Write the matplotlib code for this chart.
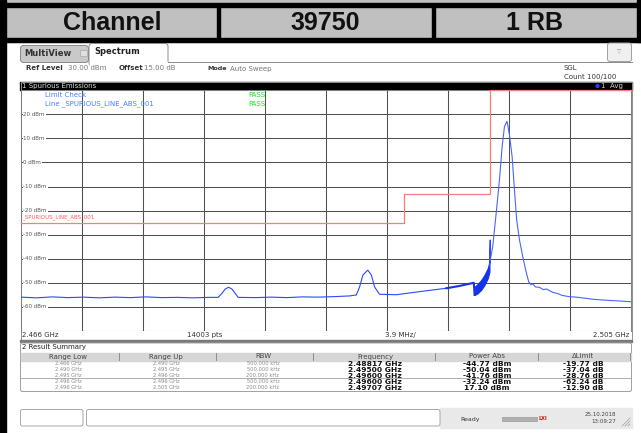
import numpy as np
import matplotlib.pyplot as plt
from matplotlib.patches import Rectangle, FancyBboxPatch, Circle

# header row of the report
header_labels = ['Channel', '39750', '1 RB']

# trace 1 (GHz, dBm), thin part up to 2.493 GHz
trace_freq = [2.4660, 2.4670, 2.4680, 2.4690, 2.4700, 2.4710, 2.4720, 2.4730,
              2.4740, 2.4750, 2.4760, 2.4770, 2.4780, 2.4786, 2.47884, 2.47906,
              2.47927, 2.47948, 2.47970, 2.47988, 2.4810, 2.4820, 2.4830, 2.4840,
              2.4850, 2.4860, 2.4870, 2.48744, 2.48765, 2.48786, 2.48817, 2.48840,
              2.48860, 2.48892, 2.4900, 2.4915, 2.4932]
trace_level = [-56.0, -56.3, -55.9, -56.2, -56.0, -56.3, -56.0, -56.2,
               -55.9, -56.2, -56.1, -56.3, -56.1, -56.1, -54.5, -52.6,
               -51.9, -52.6, -54.5, -56.1, -56.2, -56.0, -56.2, -55.9,
               -56.0, -55.8, -55.5, -55.1, -51.7, -46.8, -44.77, -46.8,
               -51.7, -54.8, -55.0, -53.7, -52.3]

# thick part before the 2.495 GHz range edge
thick_freq = [2.4932, 2.4940, 2.49495, 2.49500]
thick_level = [-52.3, -51.4, -50.04, -55.1]

# noisy band 2.495 - 2.496 GHz (upper / lower envelope)
band_freq = [2.49500, 2.49520, 2.49542, 2.49563, 2.49584, 2.49595]
band_upper = [-51.7, -50.5, -48.9, -46.8, -44.0, -41.3]
band_lower = [-55.1, -54.4, -53.0, -51.0, -48.2, -45.4]

# spike at 2.496 GHz
spike_freq = [2.49595, 2.49600, 2.49600]
spike_level = [-43.3, -32.24, -41.8]

# carrier
carrier_freq = [2.49600, 2.49616, 2.49638, 2.49659, 2.49676, 2.49691, 2.49707,
                2.49712, 2.49723, 2.49740, 2.49755, 2.49769, 2.49787, 2.49808,
                2.49829, 2.49846, 2.49860, 2.49872, 2.49890, 2.49914, 2.49940,
                2.49960, 2.49999, 2.50030, 2.50060, 2.50106, 2.50150, 2.50213,
                2.50260, 2.50319, 2.50370, 2.50425, 2.50470, 2.50500]
carrier_level = [-40.6, -35.0, -21.1, -7.3, 6.5, 14.9, 17.10,
                 15.6, 11.4, 2.4, -11.5, -23.9, -32.2, -39.2,
                 -45.4, -49.6, -50.8, -50.5, -51.8, -51.9, -52.9,
                 -52.6, -54.0, -54.5, -55.3, -55.8, -56.0, -56.5,
                 -56.9, -57.2, -57.4, -57.6, -57.8, -57.9]

# limit line as drawn on screen (GHz, dBm)
limit_freq = [2.466, 2.4905, 2.4905, 2.49597, 2.49597, 2.505]
limit_level = [-25, -25, -13, -13, 30, 30]

# result summary
range_low = [2.466, 2.490, 2.495, 2.496, 2.496]
range_up = [2.490, 2.495, 2.496, 2.496, 2.505]
rbw_khz = [500, 500, 200, 500, 200]
peak_freq = [2.48817, 2.49500, 2.49600, 2.49600, 2.49707]
peak_power = [-44.77, -50.04, -41.76, -32.24, 17.10]
delta_limit = [-19.77, -37.04, -28.76, -62.24, -12.90]

W, H = 641, 433
BLUE = '#2a48ff'
fig = plt.figure(figsize=(W / 100, H / 100), dpi=100)

# background / chrome in pixel coordinates
bg = fig.add_axes([0, 0, 1, 1], zorder=0)
bg.set_xlim(0, W)
bg.set_ylim(H, 0)
bg.axis('off')

bg.add_patch(Rectangle((0, 0), W, 42, color='#c0c0c0'))
bg.add_patch(Rectangle((0, 3.3), W, 4, color='black'))
bg.add_patch(Rectangle((0, 37.5), W, 4.2, color='black'))
bg.add_patch(Rectangle((0, 0), 6, H, color='black'))
bg.add_patch(Rectangle((636.5, 0), 5, 42, color='black'))
cell_edges = [6, 218, 433, 637]
for xe in cell_edges[1:-1]:
    bg.add_patch(Rectangle((xe - 1.5, 7), 3, 31, color='black'))
for i, lab in enumerate(header_labels):
    bg.text((cell_edges[i] + cell_edges[i + 1]) / 2, 22.5, lab, ha='center',
            va='center', fontsize=18, fontweight='bold',
            family='Liberation Sans', color='#111111')

# tabs
bg.add_patch(FancyBboxPatch((20.5, 45.5), 68, 17, boxstyle='round,pad=0,rounding_size=3',
                            fc='#c9c9c9', ec='#8a8a8a', lw=0.7))
bg.add_patch(FancyBboxPatch((89, 43.5), 79, 22, boxstyle='round,pad=0,rounding_size=3',
                            fc='white', ec='#8a8a8a', lw=0.7))
bg.add_patch(Rectangle((89.5, 62), 78, 5, color='white'))
bg.plot([168, 632], [62.3, 62.3], color='#8a8a8a', lw=0.7)
bg.add_patch(Rectangle((80, 50), 6.5, 6, fc='#e0e0e0', ec='#a8a8a8', lw=0.5))
bg.text(24, 53.5, 'MultiView', fontsize=6, fontweight='bold', va='center', color='#333333')
bg.text(94, 51.5, 'Spectrum', fontsize=6, fontweight='bold', va='center', color='#222222')
bg.add_patch(FancyBboxPatch((607.5, 43), 24, 18.5, boxstyle='round,pad=0,rounding_size=2.5',
                            fc='#f0f0f0', ec='#a0a0a0', lw=0.7))
bg.text(619.5, 52, '\u25bd', fontsize=4, ha='center', va='center', color='#909090')

# info line
bg.text(26.5, 68.5, 'Ref Level', fontsize=5, fontweight='bold', va='center', color='#333333')
bg.text(68.5, 68.5, '30.00 dBm', fontsize=5, va='center', color='#777777')
bg.text(118.5, 68.5, 'Offset', fontsize=5, fontweight='bold', va='center', color='#333333')
bg.text(143.5, 68.5, '15.00 dB', fontsize=5, va='center', color='#777777')
bg.text(207, 68.5, 'Mode', fontsize=4.6, fontweight='bold', va='center', color='#333333')
bg.text(229.5, 68.5, 'Auto Sweep', fontsize=5, va='center', color='#777777')
bg.text(564, 68, 'SGL', fontsize=5, va='center', color='#333333')
bg.text(564, 76.5, 'Count 100/100', fontsize=5, va='center', color='#333333')

# diagram title bar
bg.add_patch(Rectangle((20, 81.5), 612, 8.5, color='black'))
bg.text(22, 86, '1 Spurious Emissions', fontsize=5, va='center', color='#d8d8d8')
bg.add_patch(Circle((597.5, 86), 1.4, color='#2040ff'))
bg.text(601, 86, '1  Avg', fontsize=5, va='center', color='#cfcfcf')

# frame around diagram incl. scale row
bg.add_patch(Rectangle((20.5, 81.5), 611, 258, fill=False, ec='#909090', lw=0.7))
bg.add_patch(Rectangle((20, 339.5), 612, 2.2, color='#7a7a7a'))
bg.text(22, 335, '2.466 GHz', fontsize=5, va='center', color='#333333')
bg.text(187, 335, '14003 pts', fontsize=5, va='center', color='#333333')
bg.text(385, 335, '3.9 MHz/', fontsize=5, va='center', color='#333333')
bg.text(629, 335, '2.505 GHz', fontsize=5, va='center', ha='right', color='#333333')

# result summary
bg.add_patch(FancyBboxPatch((20.5, 343), 611, 48.5, boxstyle='round,pad=0,rounding_size=2',
                            fc='white', ec='#a0a0a0', lw=0.7))
bg.text(21.5, 347.5, '2 Result Summary', fontsize=5, va='center', color='#222222')
bg.add_patch(Rectangle((21, 352.5), 610, 8, color='#d6d6d6'))
col_edges = [21, 119, 216, 313, 435, 538, 630]
col_names = ['Range Low', 'Range Up', 'RBW', 'Frequency', 'Power Abs', '\u0394Limit']
for xe in col_edges[1:]:
    bg.plot([xe, xe], [353, 360], color='#808080', lw=0.6)
centers = [68, 166, 263, 375, 487, 583]
for c, name in zip(centers, col_names):
    bg.text(c, 356.5, name, fontsize=5, ha='center', va='center', color='#444444')

row_y = [363.5, 369.5, 375.5, 381.5, 387.5]
for i, y in enumerate(row_y):
    grey_cells = ['{:.3f} GHz'.format(range_low[i]), '{:.3f} GHz'.format(range_up[i]),
                  '{:.3f} kHz'.format(rbw_khz[i])]
    bold_cells = ['{:.5f} GHz'.format(peak_freq[i]), '{:.2f} dBm'.format(peak_power[i]),
                  '{:.2f} dB'.format(delta_limit[i])]
    for c, t in zip(centers[:3], grey_cells):
        bg.text(c, y, t, fontsize=3.7, ha='center', va='center', color='#8a8a8a')
    for c, t in zip(centers[3:], bold_cells):
        bg.text(c, y + 0.2, t, fontsize=5.4, ha='center', va='center',
                fontweight='bold', color='#111111')
bg.plot([21, 631], [378.4, 378.4], color='#a0a0a0', lw=0.6)

# status bar
bg.add_patch(Rectangle((440, 408), 192, 20, color='#e9e9e9'))
bg.add_patch(FancyBboxPatch((20.5, 409.5), 62.5, 16.5, boxstyle='round,pad=0,rounding_size=2',
                            fc='white', ec='#9a9a9a', lw=0.6))
bg.add_patch(FancyBboxPatch((86.5, 409.5), 353.5, 16.5, boxstyle='round,pad=0,rounding_size=2',
                            fc='white', ec='#9a9a9a', lw=0.6))
bg.text(460, 419, 'Ready', fontsize=4.5, va='center', color='#333333')
bg.add_patch(Rectangle((502, 417), 35, 4, fc='#b0b0b0', ec='#909090', lw=0.4))
bg.text(542.5, 419, 'LXI', fontsize=3.5, fontweight='bold', ha='center', va='center',
        color='#d01010')
bg.text(616, 414.5, '25.10.2018', fontsize=4, ha='right', va='center', color='#444444')
bg.text(616, 421.8, '13:09:27', fontsize=4, ha='right', va='center', color='#444444')
for d in [0, 3, 6]:
    bg.plot([622 + d, 630], [426, 418 + d], color='#a0a0a0', lw=0.5)

# spectrum diagram
ax = fig.add_axes([21 / W, 1 - 330.8 / H, 610 / W, 240.5 / H], zorder=2)
ax.set_xlim(2.466, 2.505)
ax.set_ylim(-70, 30)
ax.set_xticks(np.linspace(2.466, 2.505, 11))
ax.set_yticks(np.arange(-70, 31, 10))
ax.grid(True, color='#505050', lw=0.75)
ax.tick_params(length=0, labelleft=False, labelbottom=False)
for s in ax.spines.values():
    s.set_color('#808080')
    s.set_linewidth(0.7)
ax.spines['bottom'].set_visible(False)

ytr = ax.get_yaxis_transform()
for lvl in range(20, -61, -10):
    ax.text(0.004, lvl, '{} dBm'.format(lvl), transform=ytr, fontsize=4, va='center',
            color='#555555', bbox=dict(fc='white', ec='none', pad=0.6))

ax.plot(limit_freq, limit_level, color='#ff7b7b', lw=0.9, clip_on=False, zorder=3)
ax.text(0.002, limit_level[0] + 1.2, '_SPURIOUS_LINE_ABS_001', transform=ytr, fontsize=4,
        va='bottom', color='#ff5a5a')

ax.plot(trace_freq, trace_level, color=BLUE, lw=0.8, zorder=4)
ax.plot(thick_freq, thick_level, color='#1434e8', lw=1.5, zorder=4)
ax.fill_between(band_freq, band_lower, band_upper, color='#1434e8', lw=0.8, zorder=4)
ax.plot(spike_freq, spike_level, color=BLUE, lw=0.8, zorder=4)
ax.plot(carrier_freq, carrier_level, color='#4a64ff', lw=0.8, zorder=4)

ax.text(0.04, 0.982, 'Limit Check', transform=ax.transAxes, fontsize=5, va='center',
        color='#4a7cff')
ax.text(0.04, 0.943, 'Line _SPURIOUS_LINE_ABS_001', transform=ax.transAxes, fontsize=5,
        va='center', color='#4a7cff')
ax.text(0.372, 0.982, 'PASS', transform=ax.transAxes, fontsize=5, va='center',
        color='#22dd22')
ax.text(0.372, 0.943, 'PASS', transform=ax.transAxes, fontsize=5, va='center',
        color='#22dd22')

plt.savefig('out.png', dpi=100)
